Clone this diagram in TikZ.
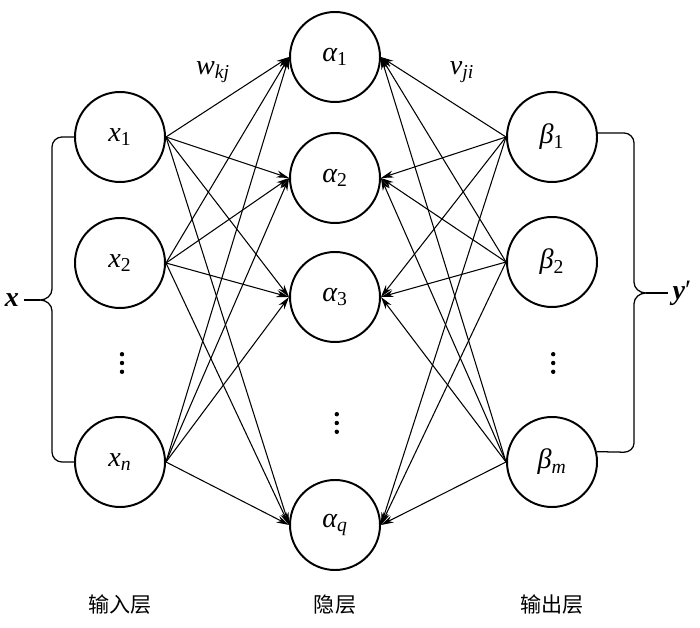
\documentclass[tikz,border=0pt]{standalone}
\usepackage{fontspec}
\setmainfont{Liberation Serif}
\newfontfamily\cjk{Noto Sans CJK SC}
\usetikzlibrary{arrows.meta}
% italic symbol with subscript
\newcommand{\nsym}[2]{{\itshape #1}\textsubscript{#2}}

\tikzset{
  neuron/.style={circle, draw, line width=1.4pt, minimum size=2.25cm, inner sep=0pt,
    font=\fontsize{20}{22}\selectfont},
  link/.style={-{Stealth[length=9pt,width=5pt]}, line width=0.75pt},
  brace/.style={line width=0.9pt},
  layer/.style={font=\cjk\fontsize{15}{18}\selectfont},
  mathlab/.style={font=\fontsize{20}{22}\selectfont},
}

\begin{document}
\begin{tikzpicture}
    \useasboundingbox (0,0) rectangle (17.5,15.675);
    % input layer
    \node[neuron] (x1) at (3.0,12.25) {\nsym{x}{1}};
    \node[neuron] (x2) at (3.0,9.1) {\nsym{x}{2}};
    \coordinate (xd) at (3.05,6.6);
    \node[neuron] (xn) at (3.0,4.125) {\nsym{x}{\textit{n}}};
    % hidden layer
    \node[neuron] (a1) at (8.375,14.25) {\nsym{α}{1}};
    \node[neuron] (a2) at (8.375,11.225) {\nsym{α}{2}};
    \node[neuron] (a3) at (8.375,8.25) {\nsym{α}{3}};
    \coordinate (ad) at (8.42,5.1);
    \node[neuron] (aq) at (8.375,2.55) {\nsym{α}{\textit{q}}};
    % output layer
    \node[neuron] (b1) at (13.8,12.25) {\nsym{β}{1}};
    \node[neuron] (b2) at (13.8,9.125) {\nsym{β}{2}};
    \coordinate (bd) at (13.83,6.6);
    \node[neuron] (bm) at (13.8,4.125) {\nsym{β}{\textit{m}}};
    % vertical dots
    \foreach \c in {xd,ad,bd}
      \foreach \k in {-1,0,1}
        \fill[shift={(\c)}] (0,\k*0.22) circle (0.055);
    % weights
    \foreach \i in {x1,x2,xn}
      \foreach \j in {a1,a2,a3,aq}
        \draw[link] (\i.east) -- (\j.west);
    \foreach \i in {b1,b2,bm}
      \foreach \j in {a1,a2,a3,aq}
        \draw[link] (\i.west) -- (\j.east);
    \node[mathlab] (w) at (5.325,13.875) {\nsym{w}{\textit{kj}}};
    \node[mathlab] (v) at (11.55,13.875) {\nsym{v}{\textit{ji}}};
    % braces
    \node[mathlab] (xlab) at (0.3,8.175) {\textbf{\textit{x}}};
    \coordinate (bl) at (1.0,8.175);
    \draw[brace] (x1.west) -- (1.55,12.25) to[out=180,in=90] (1.3,12.0)
      -- (1.3,8.45) to[out=-90,in=0] (bl) to[out=0,in=90] (1.3,7.9)
      -- (1.3,4.375) to[out=-90,in=180] (1.55,4.125) -- (xn.west);
    \draw[brace] (bl) -- (xlab.east);
    \node[mathlab] (ylab) at (17.05,8.35) {\textbf{\textit{y}}′};
    \coordinate (br) at (16.15,8.35);
    \draw[brace] (b1.5) -- (15.6,12.35) to[out=0,in=90] (15.85,12.1)
      -- (15.85,8.62) to[out=-90,in=180] (br) to[out=180,in=90] (15.85,8.08)
      -- (15.85,4.6) to[out=-90,in=0] (15.6,4.37) -- (bm.13);
    \draw[brace] (br) -- (ylab.west);
    % layer names
    \node[layer] (lin) at (3.0,0.55) {输入层};
    \node[layer] (lhid) at (8.375,0.55) {隐层};
    \node[layer] (lout) at (13.8,0.55) {输出层};
\end{tikzpicture}
\end{document}
